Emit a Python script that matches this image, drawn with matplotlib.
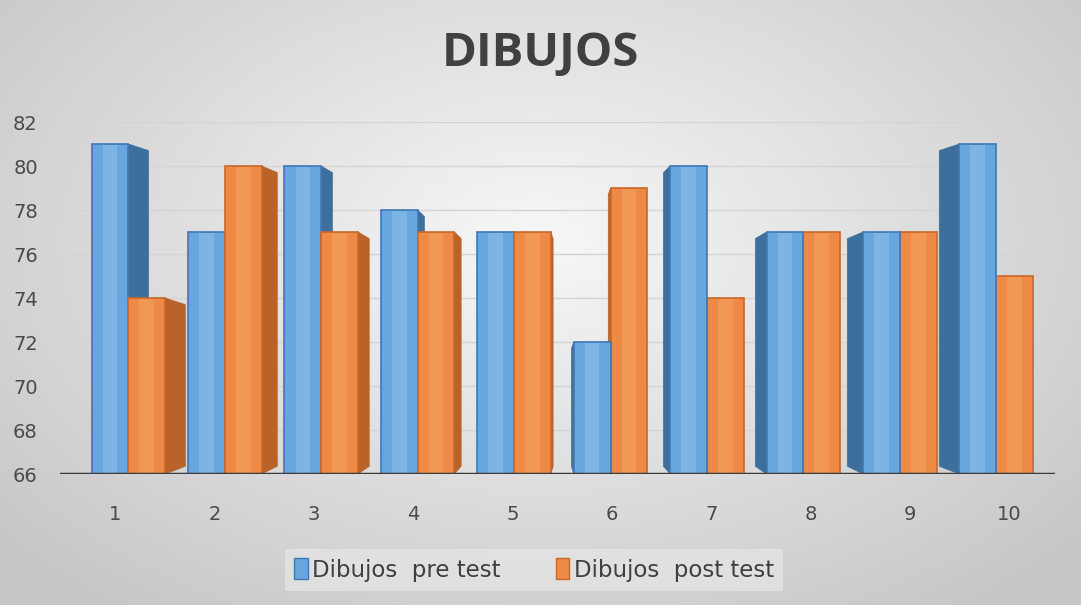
import matplotlib.pyplot as plt
import numpy as np
from matplotlib.patches import Polygon, Patch

categories = ['1', '2', '3', '4', '5', '6', '7', '8', '9', '10']
pre_test = [81, 77, 80, 78, 77, 72, 80, 77, 77, 81]
post_test = [74, 80, 77, 77, 77, 79, 74, 77, 77, 75]

W, H = 1081, 605
fig = plt.figure(figsize=(W / 100, H / 100), dpi=100)

# gray radial background like the Excel chart area
bg = fig.add_axes([0, 0, 1, 1])
yy, xx = np.mgrid[0:1:200j, 0:1:300j]
r = np.sqrt(((xx - 0.5) / 0.7) ** 2 + ((yy - 0.6) / 0.8) ** 2)
shade = np.clip(0.97 - 0.2 * r, 0.78, 0.97)
bg.imshow(np.dstack([shade] * 3), extent=[0, 1, 0, 1], aspect='auto', origin='lower')
bg.axis('off')

left_px, right_px, base_px, top_px = 60, 1055, 474, 122
ax = fig.add_axes([left_px / W, 1 - base_px / H,
                   (right_px - left_px) / W, (base_px - top_px) / H])
ax.patch.set_alpha(0)
x0 = (left_px - 115) / 99.4 + 1
x1 = (right_px - 115) / 99.4 + 1
ax.set_xlim(x0, x1)
ax.set_ylim(66, 82)

for v in range(68, 83, 2):
    ax.axhline(v, color='#d4d4d4', lw=1, zorder=0)
ax.axhline(66, color='#3a3a3a', lw=2.5, zorder=50)

blue = dict(front='#6aa6de', light='#8cc0ee', side='#3d6f9c', edge='#3f78b5')
orange = dict(front='#ee8a45', light='#f5a466', side='#b9632a', edge='#c9682a')

w = 0.37
x = np.arange(1, len(categories) + 1)


def draw_bar(xl, val, col, depth, z):
    # side face first, then the front
    xe = xl + w if depth > 0 else xl
    side = Polygon([(xe, 66), (xe, val), (xe + depth, val - 0.3),
                    (xe + depth, 66 + 0.35)], closed=True,
                   facecolor=col['side'], edgecolor=col['side'], lw=0.5, zorder=z)
    ax.add_patch(side)
    ax.bar(xl, val - 66, width=w, bottom=66, align='edge', color=col['front'],
           edgecolor=col['edge'], lw=1.2, zorder=z + 0.1)
    ax.bar(xl + w * 0.3, val - 66 - 0.1, width=w * 0.4, bottom=66.05, align='edge',
           color=col['light'], lw=0, alpha=0.55, zorder=z + 0.2)


for i, (p, q) in enumerate(zip(pre_test, post_test)):
    c = x[i]
    shift = (5.5 - c) * 0.03
    depth = (5.5 - c) * 0.045
    if depth > 0:
        draw_bar(c + shift - w, p, blue, depth, 10 + i * 2)
        draw_bar(c + shift, q, orange, depth, 11 + i * 2)
    else:
        draw_bar(c + shift, q, orange, depth, 10 + i * 2)
        draw_bar(c + shift - w, p, blue, depth, 11 + i * 2)

ax.set_xticks(x)
ax.set_xticklabels(categories)
ax.set_yticks(range(66, 83, 2))
ax.tick_params(axis='both', length=0, labelsize=14, labelcolor='#4a4a4a')
ax.tick_params(axis='x', pad=22)
ax.tick_params(axis='y', pad=16)
for s in ax.spines.values():
    s.set_visible(False)

fig.text(0.5, 1 - 54 / H, 'DIBUJOS', ha='center', va='center', fontsize=34,
         fontweight='bold', color='#404040', family='Open Sans')

handles = [Patch(facecolor=blue['front'], edgecolor=blue['edge']),
           Patch(facecolor=orange['front'], edgecolor=orange['edge'])]
leg = fig.legend(handles, ['Dibujos  pre test', 'Dibujos  post test'],
                 loc='center', bbox_to_anchor=(534 / W, 1 - 570 / H), ncol=2,
                 fontsize=16.5, frameon=True, fancybox=False, handlelength=0.6,
                 handleheight=1.0, handletextpad=0.2, columnspacing=2.4,
                 borderpad=0.4, borderaxespad=0, labelcolor='#404040')
leg.get_frame().set_facecolor('#e4e4e4')
leg.get_frame().set_edgecolor('none')

fig.savefig('out.png', dpi=100)
